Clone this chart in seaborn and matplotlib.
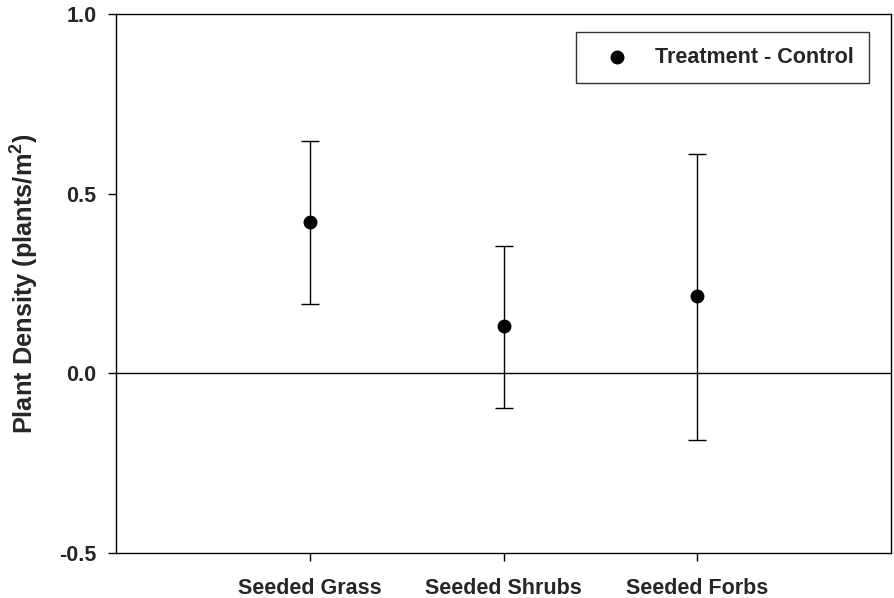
import matplotlib
matplotlib.use("Agg")
import matplotlib.pyplot as plt
import seaborn as sns
import pandas as pd

categories = ["Seeded Grass", "Seeded Shrubs", "Seeded Forbs"]
means = [0.422, 0.131, 0.214]
upper = [0.647, 0.353, 0.609]
lower = [0.194, -0.097, -0.186]
series_label = "Treatment - Control"
y_ticks = [-0.5, 0.0, 0.5, 1.0]

sns.set_theme(style="ticks")
plt.rcParams['font.family'] = ['Liberation Sans', 'DejaVu Sans']
plt.rcParams['mathtext.fontset'] = 'custom'
plt.rcParams['mathtext.bf'] = 'Liberation Sans:bold'
plt.rcParams['mathtext.rm'] = 'Liberation Sans'

df = pd.DataFrame({"cat": categories, "mean": means, "upper": upper, "lower": lower})

fig = plt.figure(figsize=(8.94, 5.98), dpi=100)
ax = fig.add_axes([116/894, 1-553/598, 775/894, 539/598])

pos = list(range(len(categories)))
yerr = [[m - l for m, l in zip(means, lower)], [u - m for m, u in zip(means, upper)]]
ax.axhline(0, color="black", lw=1.0, zorder=1)
ax.errorbar(pos, means, yerr=yerr, fmt="none", ecolor="black", elinewidth=1.0,
            capsize=6.3, capthick=1.0, zorder=2)
sns.scatterplot(data=df, x="cat", y="mean", ax=ax, color="black", s=100,
                edgecolor="black", linewidth=0, label=series_label, zorder=3)

ax.set_xlim(-1, 3)
ax.set_ylim(-0.5, 1.0)
ax.set_yticks(y_ticks)
ax.set_yticklabels([f"{v:.1f}" for v in y_ticks])
ax.set_xticks(pos)
ax.set_xticklabels(categories)
ax.set_xlabel("")
ax.set_ylabel(r"Plant Density (plants/m$^\mathbf{2}$)", fontsize=18.3, fontweight="bold", labelpad=13)

for s in ax.spines.values():
    s.set_color("black")
    s.set_linewidth(1.0)
    s.set_visible(True)

ax.tick_params(axis="both", direction="out", length=6, width=1.0, color="black",
               labelsize=15.5, top=False, right=False)
ax.tick_params(axis="x", pad=12)
ax.tick_params(axis="y", pad=8)
for lab in ax.get_xticklabels() + ax.get_yticklabels():
    lab.set_fontweight("bold")

leg = ax.legend(loc="upper right", bbox_to_anchor=((869-116)/775, (553-32)/539),
                borderaxespad=0, frameon=True, fancybox=False, shadow=False,
                prop={"weight": "bold", "size": 15.5}, borderpad=0.7,
                handlelength=2.4, handletextpad=0.56, markerscale=1.0)
leg.get_frame().set_edgecolor("black")
leg.get_frame().set_linewidth(1.0)

fig.savefig("out.png", dpi=100)
